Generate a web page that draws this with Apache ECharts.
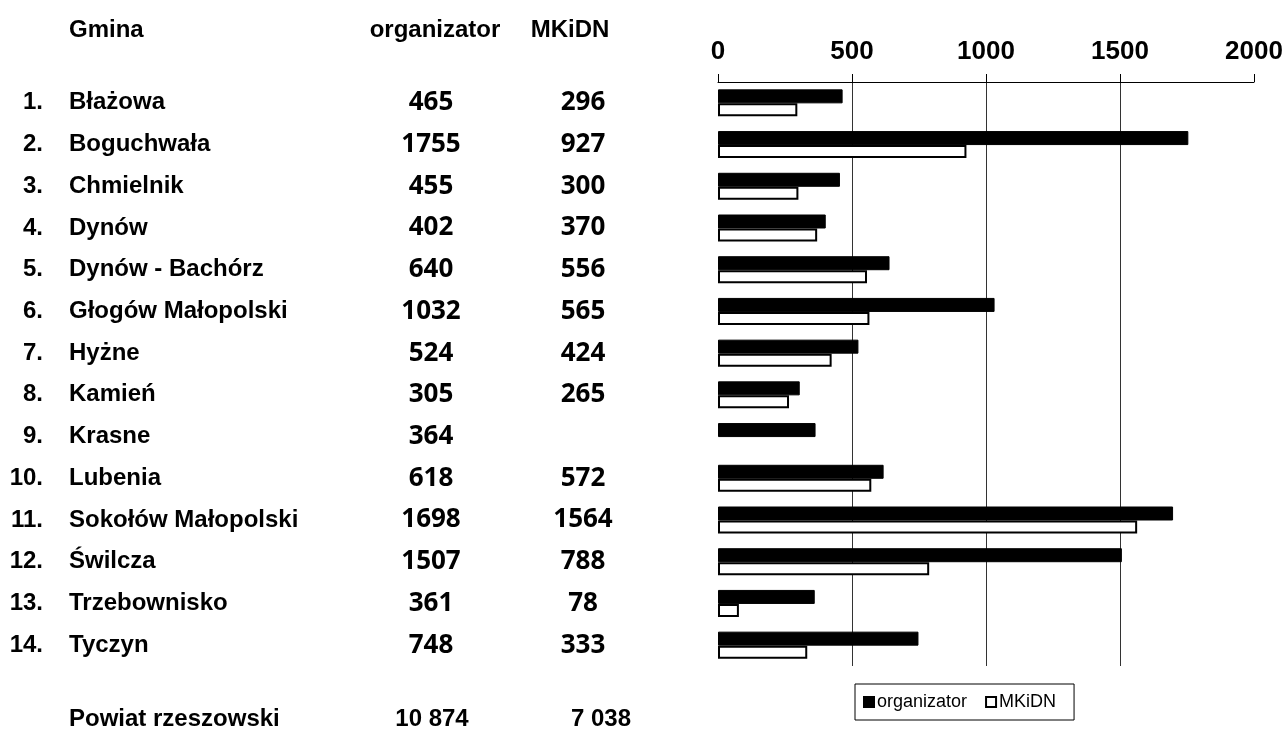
<!DOCTYPE html>
<html><head><meta charset="utf-8">
<script src="https://cdn.jsdelivr.net/npm/echarts@6/dist/echarts.min.js"></script>
<style>html,body{margin:0;padding:0;background:#fff}#c{width:1284px;height:734px}</style>
</head><body><div id="c"></div>
<script>
// ---- data ----
const gminy = ['Błażowa','Boguchwała','Chmielnik','Dynów','Dynów - Bachórz','Głogów Małopolski','Hyżne','Kamień','Krasne','Lubenia','Sokołów Małopolski','Świlcza','Trzebownisko','Tyczyn'];
const organizator = [465,1755,455,402,640,1032,524,305,364,618,1698,1507,361,748];
const mkidn = [296,927,300,370,556,565,424,265,null,572,1564,788,78,333];
const seriesNames = ['organizator','MKiDN'];
const headerGmina = 'Gmina';
const totalLabel = 'Powiat rzeszowski';
const xMin = 0, xMax = 2000, xStep = 500;

// ---- helpers ----
const sum = a => a.reduce((s, v) => s + (v || 0), 0);
const fmtThousands = n => String(n).replace(/\B(?=(\d{3})+(?!\d))/g, ' ');
const NAME_FONT = "'Liberation Sans', Arial, sans-serif";
const NUM_FONT = "'Open Sans', 'Noto Sans', sans-serif";

const GRID_LEFT = 718;
function labelAxis(fmt, x, align, font, size) {
  return {
    type: 'category', data: gminy, inverse: true, position: 'left', gridIndex: 0,
    axisLine: { show: false }, axisTick: { show: false }, splitLine: { show: false },
    axisLabel: {
      interval: 0, margin: GRID_LEFT - x, align: align,
      formatter: (v, i) => fmt(i),
      fontFamily: font, fontSize: size, fontWeight: 'bold', color: '#000'
    }
  };
}

const chart = echarts.init(document.getElementById('c'), null, { renderer: 'canvas' });
chart.setOption({
  backgroundColor: '#fff',
  animation: false,
  grid: { left: GRID_LEFT, right: 1284 - 1254, top: 82, bottom: 68, containLabel: false, outerBoundsMode: 'none' },
  xAxis: {
    type: 'value', position: 'top', min: xMin, max: xMax, interval: xStep,
    axisLine: { show: true, lineStyle: { color: '#000', width: 1 } },
    axisTick: { show: true, length: 8, lineStyle: { color: '#000', width: 1 } },
    splitLine: { show: true, showMinLine: false, showMaxLine: false, lineStyle: { color: '#333', width: 1 } },
    axisLabel: { margin: 17, formatter: v => String(v), fontFamily: NAME_FONT, fontWeight: 'bold', fontSize: 26, color: '#000' }
  },
  yAxis: [
    labelAxis(i => gminy[i], 69, 'left', NAME_FONT, 24),
    labelAxis(i => (i + 1) + '.', 43, 'right', NAME_FONT, 24),
    labelAxis(i => organizator[i] == null ? '' : String(organizator[i]), 431, 'center', NUM_FONT, 26),
    labelAxis(i => mkidn[i] == null ? '' : String(mkidn[i]), 583, 'center', NUM_FONT, 26)
  ],
  legend: {
    data: seriesNames, left: 855, top: 684, orient: 'horizontal',
    borderColor: '#000', borderWidth: 1, padding: [9, 18, 9, 8],
    itemWidth: 10, itemHeight: 10, itemGap: 18, icon: 'rect',
    textStyle: { fontFamily: NAME_FONT, fontSize: 18, color: '#000', padding: [0, 0, 0, -2] }
  },
  series: [
    { name: seriesNames[0], type: 'bar', data: organizator, yAxisIndex: 0, barWidth: 14, barGap: '0%',
      itemStyle: { color: '#000', borderColor: '#000', borderWidth: 1 } },
    { name: seriesNames[1], type: 'bar', data: mkidn, yAxisIndex: 0, barWidth: 13, barGap: '0%',
      itemStyle: { color: '#fff', borderColor: '#000', borderWidth: 2 } }
  ],
  graphic: [
    { type: 'text', x: 69, y: 30, style: { text: headerGmina, font: "bold 24px " + NAME_FONT, fill: '#000', align: 'left', verticalAlign: 'middle' } },
    { type: 'text', x: 435, y: 30, style: { text: seriesNames[0], font: "bold 24px " + NAME_FONT, fill: '#000', align: 'center', verticalAlign: 'middle' } },
    { type: 'text', x: 570, y: 30, style: { text: seriesNames[1], font: "bold 24px " + NAME_FONT, fill: '#000', align: 'center', verticalAlign: 'middle' } },
    { type: 'text', x: 69, y: 719, style: { text: totalLabel, font: "bold 24px " + NAME_FONT, fill: '#000', align: 'left', verticalAlign: 'middle' } },
    { type: 'text', x: 432, y: 719, style: { text: fmtThousands(sum(organizator)), font: "bold 24px " + NAME_FONT, fill: '#000', align: 'center', verticalAlign: 'middle' } },
    { type: 'text', x: 601, y: 719, style: { text: fmtThousands(sum(mkidn)), font: "bold 24px " + NAME_FONT, fill: '#000', align: 'center', verticalAlign: 'middle' } }
  ]
});
</script>
</body></html>
